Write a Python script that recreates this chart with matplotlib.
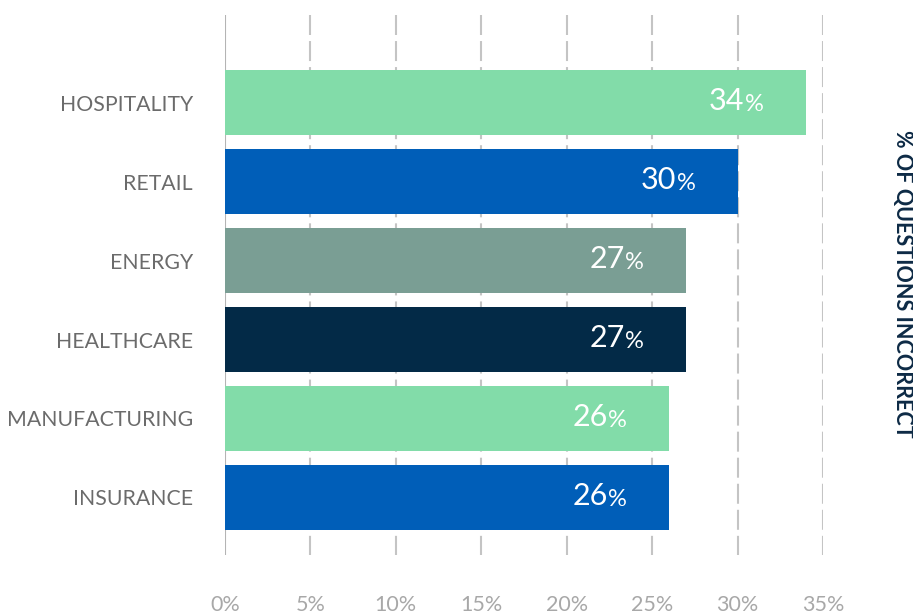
import matplotlib
matplotlib.use("Agg")
import matplotlib.pyplot as plt
import numpy as np

# Share of questions answered incorrectly, by industry
categories = ["HOSPITALITY", "RETAIL", "ENERGY", "HEALTHCARE", "MANUFACTURING", "INSURANCE"]
values = [34, 30, 27, 27, 26, 26]
bar_colors = ["#82dca9", "#005eb8", "#7a9e94", "#032a47", "#82dca9", "#005eb8"]
x_ticks = [0, 5, 10, 15, 20, 25, 30, 35]
x_tick_labels = ["0%", "5%", "10%", "15%", "20%", "25%", "30%", "35%"]
side_title = "% OF QUESTIONS INCORRECT"

plt.rcParams["font.family"] = ["Lato", "DejaVu Sans"]

W, H = 913, 614
fig = plt.figure(figsize=(W / 100, H / 100), dpi=100)
ax = fig.add_axes([225 / W, 1 - 555 / H, (823 - 225) / W, (555 - 15) / H])

y = np.arange(len(categories))
y_top, y_bot = -1.108, 5.728
ax.set_xlim(0, 35)
ax.set_ylim(y_bot, y_top)

# grid: solid baseline at 0, dashed lines elsewhere, drawn top-down
for t in x_ticks:
    if t == 0:
        ax.vlines(t, y_top, y_bot, color="#b4b4b4", lw=1.5, zorder=1)
    else:
        ax.vlines(t, y_top, y_bot, color="#c4c4c4", lw=1.5,
                  linestyles=[(0, (9.6, 2.9))], zorder=1)

ax.barh(y, values, height=0.82, color=bar_colors, zorder=2)

for yi, v in zip(y, values):
    pct = ax.annotate("%", xy=(v, yi), xytext=(-42 * 0.72, -8.5 * 0.72), textcoords="offset points",
                      ha="right", va="baseline", color="white", fontsize=17, zorder=3)
    ax.annotate(f"{v:d}", xy=(0, 0), xycoords=pct, xytext=(-0.5, 0), textcoords="offset points",
                ha="right", va="bottom", color="white", fontsize=22, zorder=3)

ax.set_yticks(y)
ax.set_yticklabels(categories, fontsize=15.3, color="#6b6b6b")
ax.set_xticks(x_ticks)
ax.set_xticklabels(x_tick_labels, fontsize=15.5, color="#a8a8a8")
ax.tick_params(axis="both", length=0)
ax.tick_params(axis="y", pad=23)
ax.tick_params(axis="x", pad=29)
for s in ax.spines.values():
    s.set_visible(False)

fig.text(902 / W, 1 - 284 / H, side_title, rotation=-90, ha="center", va="center",
         fontsize=15.5, fontweight="bold", color="#0d2a45")

fig.savefig("out.png", dpi=100)
